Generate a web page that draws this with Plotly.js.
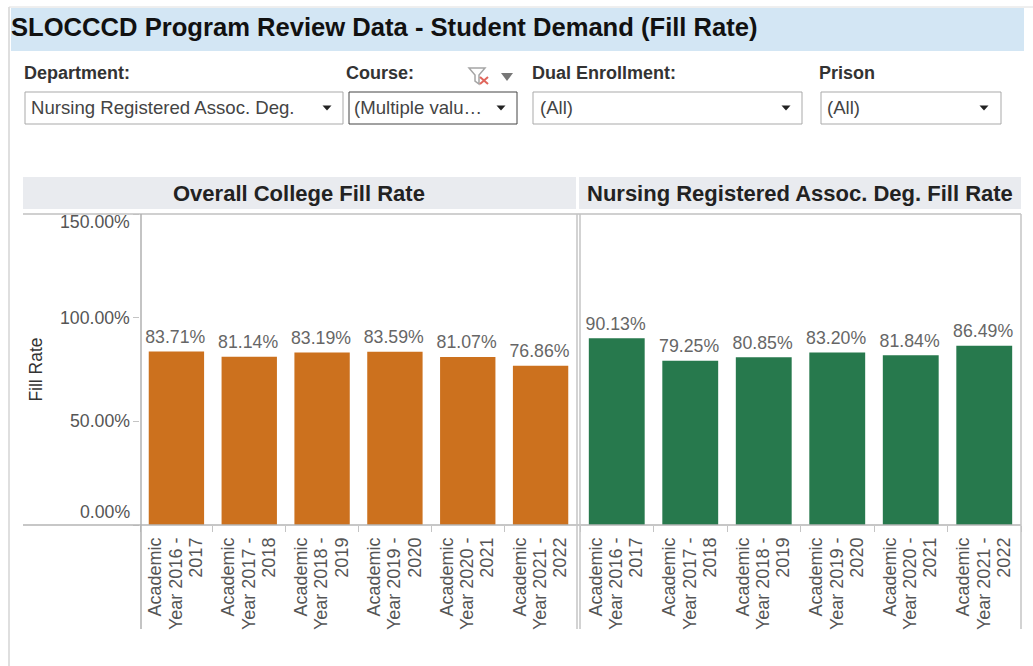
<!DOCTYPE html>
<html><head><meta charset="utf-8">
<script src="https://cdn.plot.ly/plotly-3.0.1.min.js"></script>
<style>html,body{margin:0;padding:0;background:#fff}#c{width:1033px;height:666px}</style>
</head><body><div id="c"></div>
<script>
var years = ["Academic<br>Year 2016 -<br>2017","Academic<br>Year 2017 -<br>2018","Academic<br>Year 2018 -<br>2019","Academic<br>Year 2019 -<br>2020","Academic<br>Year 2020 -<br>2021","Academic<br>Year 2021 -<br>2022"];
var collegeFill = [83.71,81.14,83.19,83.59,81.07,76.86];
var nursingFill = [90.13,79.25,80.85,83.20,81.84,86.49];
var yTicks = [0,50,100,150];
var panelTitles = ["Overall College Fill Rate","Nursing Registered Assoc. Deg. Fill Rate"];
var filterLabels = ["Department:","Course:","Dual Enrollment:","Prison"];
var filterValues = ["Nursing Registered Assoc. Deg.","(Multiple valu…","(All)","(All)"];
var titleText = "SLOCCCD Program Review Data - Student Demand (Fill Rate)";

var W=1033,H=666, FONT='Arial, "Liberation Sans", sans-serif';
function px(x){return x/W;} function py(y){return 1-y/H;}
function rect(x0,y0,x1,y1,fill,line,lw){return {type:'rect',xref:'paper',yref:'paper',x0:px(x0),x1:px(x1),y0:py(y0),y1:py(y1),fillcolor:fill||'rgba(0,0,0,0)',line:{color:line||'rgba(0,0,0,0)',width:line?(lw||1):0},layer:'below'};}
function ln(x0,y0,x1,y1,c,w){return {type:'line',xref:'paper',yref:'paper',x0:px(x0),x1:px(x1),y0:py(y0),y1:py(y1),line:{color:c,width:w||1},layer:'above'};}
function tri(cx,cy,w,h,c){return {type:'path',xref:'paper',yref:'paper',path:'M '+px(cx-w/2)+' '+py(cy-h/2)+' L '+px(cx+w/2)+' '+py(cy-h/2)+' L '+px(cx)+' '+py(cy+h/2)+' Z',fillcolor:c,line:{width:0},layer:'above'};}
function txt(t,x,y,o){o=o||{};return {text:t,xref:'paper',yref:'paper',x:px(x),y:py(y),showarrow:false,xanchor:o.a||'left',yanchor:'middle',font:{family:FONT,size:o.s||16,color:o.c||'#333'},borderpad:0};}

var shapes=[
 ln(9,7,9,666,'#d4d4d4',1.5), ln(9,7,1033,7,'#dedede'),
 rect(11,8,1024,51,'#d3e6f4'),
 rect(25,92,343,124,'#fff','#a9a9a9'), rect(349,92,517,124,'#fff','#444'),
 rect(533,92,802,124,'#fff','#a9a9a9'), rect(821,92,1001,124,'#fff','#a9a9a9'),
 tri(327,108,9,5,'#222'),tri(501,108,9,5,'#222'),tri(786,108,9,5,'#222'),tri(984,108,9,5,'#222'),
 tri(507,77,12,8,'#777'),
 {type:'path',xref:'paper',yref:'paper',path:'M '+px(469)+' '+py(68)+' L '+px(485)+' '+py(68)+' L '+px(479)+' '+py(75)+' L '+px(479)+' '+py(84)+' L '+px(475)+' '+py(81)+' L '+px(475)+' '+py(75)+' Z',fillcolor:'rgba(0,0,0,0)',line:{color:'#a5a5a5',width:1.5}},
 ln(480,77,488,84,'#e0665c',2), ln(488,77,480,84,'#e0665c',2),
 rect(23,177,576,209,'#e9ebef'), rect(579,177,1021,209,'#e9ebef'),
 ln(23,214,1021,214,'#c0c0c0',1.5), ln(23,525,1021,525,'#b5b5b5',1.5),
 ln(141,214,141,629,'#b0b0b0',1.5), ln(577,214,577,629,'#c4c4c4',1.5),
 ln(580,214,580,629,'#c4c4c4',1.5), ln(1021,214,1021,629,'#c4c4c4',1.5)
];

var annotations=[
 txt('<b>'+titleText+'</b>',10,27,{s:25.6,c:'#111'}),
 txt('<b>'+filterLabels[0]+'</b>',23,73.5,{s:18,c:'#333'}),
 txt('<b>'+filterLabels[1]+'</b>',345,73.5,{s:18,c:'#333'}),
 txt('<b>'+filterLabels[2]+'</b>',531,73.5,{s:18,c:'#333'}),
 txt('<b>'+filterLabels[3]+'</b>',818,73.5,{s:18,c:'#333'}),
 txt(filterValues[0],30,107.5,{s:18.6,c:'#444'}),
 txt(filterValues[1],353,107.5,{s:18.6,c:'#444'}),
 txt(filterValues[2],539,107.5,{s:18.6,c:'#444'}),
 txt(filterValues[3],826,107.5,{s:18.6,c:'#444'}),
 txt('<b>'+panelTitles[0]+'</b>',299,193,{s:22,c:'#222',a:'center'}),
 txt('<b>'+panelTitles[1]+'</b>',800,193,{s:22,c:'#222',a:'center'})
];
yTicks.forEach(function(v,i){
 annotations.push({text:v.toFixed(2)+'%',xref:'paper',yref:'y',x:px(132),y:v,yshift:(i===0?13:(i===3?-8:0)),xanchor:'right',yanchor:'middle',showarrow:false,font:{family:FONT,size:17.7,color:'#555'}});
});

var tf={family:FONT,size:17.7,color:'#666'};
var xf={family:FONT,size:18,color:'#555'};
function bar(y,xa,ya,c){return {type:'bar',x:years,y:y,xaxis:xa,yaxis:ya,width:0.76,marker:{color:c,line:{width:0}},text:y.map(function(v){return v.toFixed(2)+'%';}),textposition:'outside',constraintext:'none',textfont:tf,cliponaxis:false,hoverinfo:'x+y',showlegend:false};}
var xbase={type:'category',tickmode:'array',tickvals:years,ticktext:years,tickangle:-90,ticks:'outside',ticklen:6,tickcolor:'#c4c4c4',tickson:'boundaries',tickfont:xf,ticklabelstandoff:8,showgrid:false,zeroline:false,showline:false,automargin:false,fixedrange:true};
var layout={width:W,height:H,margin:{l:0,r:0,t:0,b:0},paper_bgcolor:'#fff',plot_bgcolor:'rgba(0,0,0,0)',showlegend:false,shapes:shapes,annotations:annotations,font:{family:FONT},
 xaxis:Object.assign({},xbase,{domain:[px(140),px(577)],anchor:'y'}),
 xaxis2:Object.assign({},xbase,{domain:[px(580),px(1021)],anchor:'y2'}),
 yaxis:{domain:[py(525),py(214)],range:[0,150],tickmode:'array',tickvals:yTicks,showticklabels:false,ticks:'outside',ticklen:6,tickcolor:'#c4c4c4',showgrid:false,zeroline:false,showline:false,anchor:'x',automargin:false,fixedrange:true,title:{text:'Fill Rate',standoff:85,font:{family:FONT,size:17.5,color:'#333'}}},
 yaxis2:{domain:[py(525),py(214)],range:[0,150],showticklabels:false,ticks:'',showgrid:false,zeroline:false,showline:false,anchor:'x2',fixedrange:true}
};
Plotly.newPlot('c',[bar(collegeFill,'x','y','#cc711e'),bar(nursingFill,'x2','y2','#27794d')],layout,{displayModeBar:false,staticPlot:true}).then(function(gd){
 // tighten the wrapped tick-label line spacing to the reference's
 gd.querySelectorAll('.xtick text, .x2tick text').forEach(function(t){
  t.querySelectorAll('tspan.line').forEach(function(s){
   var d=parseFloat(s.getAttribute('dy'))||0; s.setAttribute('dy',(d*1.13/1.3)+'em');
  });
  t.setAttribute('transform','translate(2.5,0) '+(t.getAttribute('transform')||''));
 });
 // nudge the value labels to where the reference sets them
 gd.querySelectorAll('.bartext').forEach(function(t){
  var tr=t.getAttribute('transform')||''; t.setAttribute('transform','translate(-1,-1.5) '+tr);
 });
});
</script></body></html>
